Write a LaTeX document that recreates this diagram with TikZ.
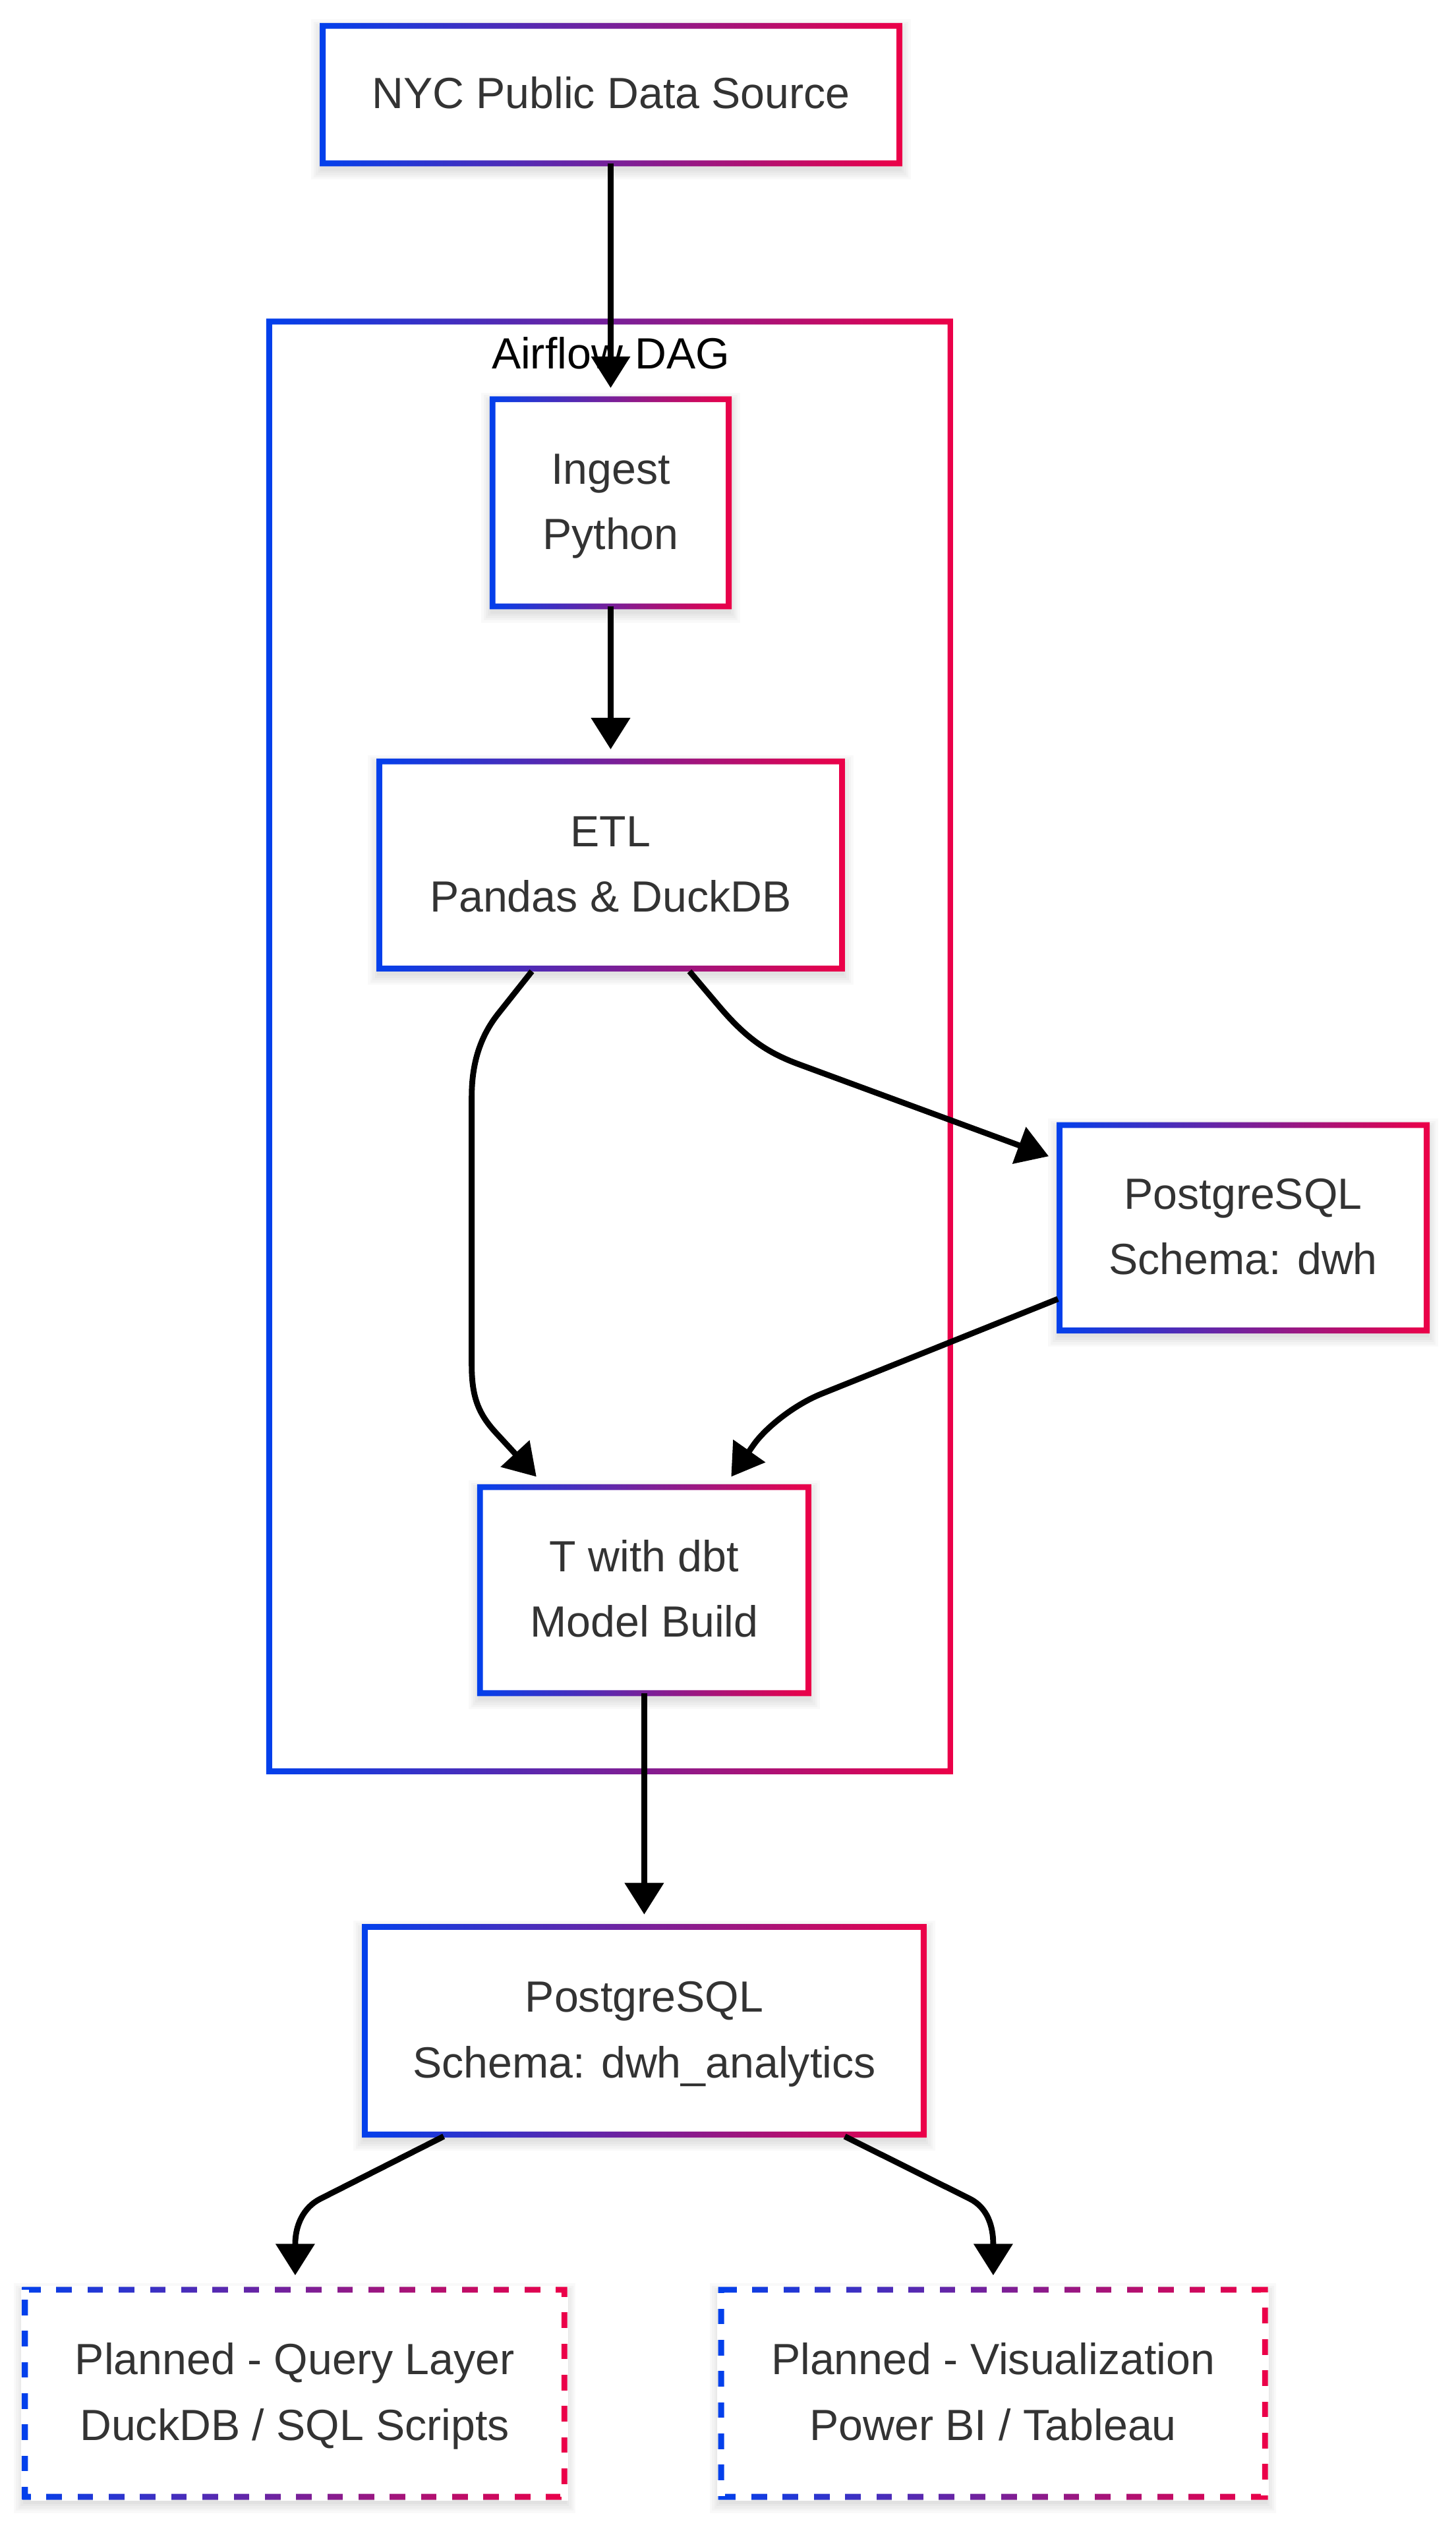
\documentclass[tikz,border=0pt]{standalone}
\usepackage{fontspec}
\setmainfont{Liberation Sans}
\usetikzlibrary{arrows.meta,calc}
\definecolor{gblue}{RGB}{2,64,236}
\definecolor{gred}{RGB}{236,0,72}
\definecolor{txt}{HTML}{333333}
\newcommand\ls{\rule[-11.55pt]{0pt}{40.5pt}}
\newcommand\gshadow[4]{%
  \foreach \k in {1,...,5}{%
    \fill[black,opacity=0.025] ({#1-#3/2-\k*1.4},{#2-#4/2-\k*1.4+3}) rectangle ({#1+#3/2+\k*1.4},{#2+#4/2+\k*1.4+3});
  }}
\newcommand\gring[1]{%
  \shade[left color=gblue, right color=gred, even odd rule]
    ($(#1.north west)+(-1.8,-1.8)$) rectangle ($(#1.south east)+(1.8,1.8)$)
    ($(#1.north west)+(1.8,1.8)$) rectangle ($(#1.south east)+(-1.8,-1.8)$);}
\newcommand\gdash[1]{%
  \draw[white, line width=5pt, dash pattern=on 9.65pt off 9.65pt, dash phase=9.65pt]
    (#1.north west) -- (#1.north east) -- (#1.south east) -- (#1.south west) -- cycle;}
\tikzset{
  boxnode/.style={inner sep=0pt, outer sep=0pt, fill=white, text=txt, align=center,
    font=\fontsize{27pt}{40.5pt}\selectfont},
  edge/.style={line width=3.6pt, draw=black, -{Triangle[length=19.5pt,width=23.5pt]}},
}
\begin{document}
\begin{tikzpicture}[x=1pt,y=-1pt]
\fill[white] (0,0) rectangle (900,1564.66);
\useasboundingbox (0,0) rectangle (900,1564.66);

% cluster
\node[inner sep=0pt, outer sep=0pt, minimum width=421.2pt, minimum height=896.2pt] (dag) at (377,646.9) {};
\gring{dag}
\node[anchor=base, inner sep=0pt, text=black, font=\fontsize{27pt}{40.5pt}\selectfont] (daglabel) at (377.5,228) {Airflow DAG};

% source
\gshadow{377.75}{58.5}{356.5}{85}
\node[boxnode, minimum width=356.5pt, minimum height=85pt] (src) at (377.75,58.5) {\ls NYC Public Data Source};
\gring{src}

% ingest
\gshadow{377.5}{310.85}{146}{128}
\node[boxnode, minimum width=146pt, minimum height=128pt] (ingest) at (377.5,310.85) {\ls Ingest\\\ls Python};
\gring{ingest}

% etl
\gshadow{377.5}{534.75}{286}{128}
\node[boxnode, minimum width=286pt, minimum height=128pt] (etl) at (377.5,534.75) {\ls ETL\\\ls Pandas \& DuckDB};
\gring{etl}

% pg dwh
\gshadow{768.5}{759}{227}{127}
\node[boxnode, minimum width=227pt, minimum height=127pt] (pg) at (768.5,759) {\ls PostgreSQL\\\ls Schema: dwh};
\gring{pg}

% dbt
\gshadow{398.25}{983}{203}{127.4}
\node[boxnode, minimum width=203pt, minimum height=127.4pt] (dbt) at (398.25,983) {\ls T with dbt\\\ls Model Build};
\gring{dbt}

% analytics
\gshadow{398.25}{1255.4}{345.5}{128.4}
\node[boxnode, minimum width=345.5pt, minimum height=128.4pt] (ana) at (398.25,1255.4) {\ls PostgreSQL\\\ls Schema: dwh\_analytics};
\gring{ana}

% planned query
\gshadow{182.2}{1479.5}{333.4}{128}
\node[boxnode, minimum width=333.4pt, minimum height=128pt] (query) at (182.2,1479.5) {\ls Planned - Query Layer\\\ls DuckDB / SQL Scripts};
\gring{query}
\gdash{query}

% planned vis
\gshadow{613.9}{1479.5}{336.2}{128}
\node[boxnode, minimum width=336.2pt, minimum height=128pt] (vis) at (613.9,1479.5) {\ls Planned - Visualization\\\ls Power BI / Tableau};
\gring{vis}
\gdash{vis}

% edges
\draw[edge] (ingest.north |- src.south) -- ($(ingest.north)+(0,-7)$);
\draw[edge] (ingest.south) -- ($(etl.north)+(0,-7.5)$);
\draw[edge] ($(etl.south)+(-48.7,1.7)$) -- (308.2,626.4)
   .. controls (296.5,641) and (291.6,658) .. (291.6,678) -- (291.6,844)
   .. controls (291.6,864) and (296,874.3) .. (306.8,886) -- ($(dbt.north)+(-66.65,-6.4)$);
\draw[edge] ($(etl.south)+(48.7,1.7)$) -- (445.3,623)
   .. controls (462,642.5) and (475,651) .. (494,658) -- ($(pg.west)+(-6.7,-44.2)$);
\draw[edge] ($(pg.west)+(-1,44)$) -- (508.2,861.5)
   .. controls (490.2,868.7) and (472.9,883.2) .. (466,893) -- ($(dbt.north)+(53.75,-6.4)$);
\draw[edge] (dbt.south) -- ($(ana.north)+(0,-7.7)$);
\draw[edge] ($(ana.south)+(-123.95,1.1)$) -- (198,1359.3)
   .. controls (187.3,1364.7) and (182.5,1376) .. (182.5,1387.4) -- ($(query.north)+(0.3,-8.9)$);
\draw[edge] ($(ana.south)+(123.95,1.1)$) -- (599.6,1359.3)
   .. controls (610.3,1364.7) and (614,1376) .. (614,1387.4) -- ($(vis.north)+(0.1,-8.9)$);
\end{tikzpicture}
\end{document}
